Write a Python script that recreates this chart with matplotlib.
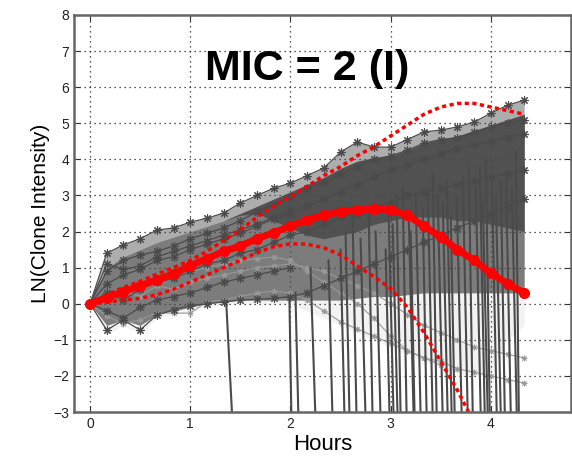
import matplotlib
matplotlib.use("Agg")
import matplotlib.pyplot as plt

# time points (hours), one sample every 10 min
hours = [0, 0.167, 0.333, 0.5, 0.667, 0.833, 1.0, 1.167, 1.333, 1.5, 1.667, 1.833, 2.0,
         2.167, 2.333, 2.5, 2.667, 2.833, 3.0, 3.167, 3.333, 3.5, 3.667, 3.833, 4.0,
         4.167, 4.333]

# red mean curve and the two dotted bounds
mean_ln = [0, 0.17, 0.33, 0.5, 0.66, 0.83, 1.05, 1.25, 1.45, 1.6, 1.8, 1.97, 2.15,
           2.32, 2.45, 2.55, 2.6, 2.63, 2.6, 2.45, 2.15, 1.85, 1.5, 1.2, 0.85, 0.55, 0.3]
upper_ln = [0, 0.25, 0.45, 0.62, 0.82, 1.0, 1.2, 1.45, 1.75, 2.05, 2.4, 2.7, 2.97,
            3.25, 3.55, 3.8, 4.1, 4.35, 4.65, 4.95, 5.25, 5.45, 5.55, 5.55, 5.45, 5.35, 5.25]
lower_ln = [0, 0.05, 0.1, 0.15, 0.25, 0.4, 0.6, 0.8, 1.0, 1.2, 1.42, 1.58, 1.66,
            1.65, 1.55, 1.35, 1.05, 0.75, 0.42, -0.1, -0.8, -1.6, -2.4, -3.3]

# outline of the clone cloud
cloud_top = [0, 1.4, 1.63, 1.8, 2.04, 2.1, 2.26, 2.37, 2.51, 2.79, 3.0, 3.2, 3.34,
             3.55, 3.76, 4.2, 4.48, 4.34, 4.34, 4.55, 4.76, 4.81, 4.9, 5.03, 5.28, 5.5, 5.64]
cloud_solid_top = [0, 1.0, 1.3, 1.5, 1.7, 1.85, 2.0, 2.15, 2.3, 2.5, 2.7, 2.9, 3.1,
                   3.3, 3.5, 3.75, 3.95, 4.05, 4.1, 4.25, 4.45, 4.55, 4.65, 4.8, 4.95, 5.1, 5.25]
cloud_mesh_low = [0, -0.6, -0.45, -0.6, -0.3, -0.2, -0.1, 0.0, 0.05, 0.1, 0.1, 0.1, 0.1,
                  0.1, 0.1, 0.1, 0.15, 0.2, 0.2, 0.25, 0.3, 0.3, 0.3, 0.3, 0.3, 0.3, 0.3]
cloud_dense_low = [0, 1.0, 1.3, 1.5, 1.7, 1.85, 2.0, 2.15, 2.3, 2.45, 2.5, 2.3, 2.1,
                   1.9, 1.8, 1.9, 2.0, 2.2, 2.3, 2.4, 2.4, 2.4, 2.3, 2.3, 2.2, 2.1, 2.0]
cloud_faint_low = [0, -0.85, -0.6, -0.85, -0.4, -0.3, -0.25, -0.1, 0.0, 0.0, 0.0, 0.0, 0.0,
                   -0.2, -0.4, -0.6, -0.8, -1.0, -1.2, -1.4, -1.6, -1.8, -1.9, -2.0, -1.9,
                   -1.0, -0.6]

# a few single clones that stand out
clone_a = cloud_top
clone_b = [0, 0.9, 1.2, 1.35, 1.45, 1.6, 1.8, 1.95, 2.1, 2.3, 2.55, 2.75, 2.95, 3.2, 3.35,
           3.6, 3.8, 4.0, 4.1, 4.25, 4.45, 4.55, 4.6, 4.75, 4.9, 5.0, 5.1]
clone_c = [0, 0.55, 0.8, 0.95, 1.2, 1.3, 1.5, 1.65, 1.8, 1.95, 2.15, 2.35, 2.5, 2.7, 2.9,
           3.1, 3.3, 3.5, 3.7, 3.85, 4.0, 4.15, 4.3, 4.4, 4.5, 4.6, 4.7]
clone_d = [0, -0.73, -0.45, -0.73, -0.31, -0.17, -0.05, 0.0, 0.05, 0.1, 0.12, 0.15, 0.2,
           0.3, 0.5, 0.7, 0.9, 1.1, 1.3, 1.5, 1.7, 1.9, 2.1, 2.3, 2.5, 2.7, 2.9]
clone_f = [0, 0.3, 0.1, 0.4, 0.6, 0.7, 0.9, 1.1, 1.2, 1.4, 1.5, 1.7, 1.9, 2.0, 2.2, 2.4,
           2.5, 2.7, 2.8, 3.0, 3.1, 3.2, 3.3, 3.4, 3.5, 3.6, 3.7]
clone_h = [0, -0.2, -0.4, -0.1, 0.1, 0.2, 0.3, 0.45, 0.6, 0.7, 0.8, 0.9, 1.0]
clone_i = [0, 1.1, 0.95, 1.05, 1.3, 1.45, 1.6, 1.75, 1.9, 2.05, 2.2, 2.4, 2.6]
clones = [clone_a, clone_b, clone_c, clone_d, clone_f, clone_h, clone_i]

# faint clones that slowly fall off
fade_e = [0, -0.35, -0.55, -0.45, -0.25, -0.26, -0.26, 0.05, 0.1, 0.2, 0.3, 0.35, 0.3,
          0.1, -0.2, -0.5, -0.7, -0.9, -1.1, -1.3, -1.5, -1.6, -1.8, -1.9, -2.0, -2.1, -2.2]
fade_g = [0, 0.1, 0.35, 0.2, 0.5, 0.4, 0.6, 0.7, 0.8, 0.9, 1.0, 1.05, 1.1, 1.0, 0.9, 0.7,
          0.5, 0.3, 0.0, -0.3, -0.6, -0.8, -1.0, -1.2, -1.3, -1.4, -1.5]
fade_k = [0, 0.2, 0.4, 0.6, 0.7, 0.8, 0.9, 1.0, 1.1, 1.2, 1.25, 1.3, 1.2, 0.9, 0.6, 0.3,
          0.0, -0.4, -0.9, -1.3, -1.5, -1.7]
fades = [fade_e, fade_g, fade_k]

# clones that vanish: last time seen, last value, time they pass -3
drop_t0 = [1.36, 1.99, 2.05, 2.2, 2.38, 2.5, 2.55, 2.7, 2.85, 2.95, 2.98, 3.02, 3.06,
           3.18, 3.25, 3.32, 3.37, 3.47, 3.52, 3.56, 3.66, 3.72, 3.85, 3.89, 3.92, 4.01,
           4.05, 4.15, 4.21, 2.62, 2.78, 3.12, 3.2, 3.42, 3.6, 3.78, 3.95, 4.1, 4.25]
drop_v0 = [0.0, 0.1, 0.3, 1.0, 1.2, 1.5, 2.0, 1.8, 2.0, 1.5, 2.5, 2.2, 3.0, 2.5, 3.0,
           2.6, 3.2, 3.0, 2.8, 3.4, 3.0, 3.5, 3.2, 3.8, 2.8, 3.5, 3.0, 3.6, 3.2,
           2.4, 2.6, 3.2, 2.0, 3.6, 2.4, 3.8, 4.0, 3.4, 4.2]
drop_t1 = [1.42, 2.01, 2.08, 2.25, 2.42, 2.54, 2.59, 2.75, 2.9, 2.99, 3.03, 3.07, 3.1,
           3.23, 3.3, 3.36, 3.42, 3.52, 3.57, 3.61, 3.71, 3.77, 3.9, 3.94, 3.97, 4.06,
           4.1, 4.2, 4.26, 2.66, 2.82, 3.16, 3.24, 3.46, 3.64, 3.82, 3.99, 4.14, 4.28]
drop_v1 = -3.2

GRAY = "#4a4a4a"
RED = "#ff0000"
ASTER = (8, 2, 0)

plt.rcParams["font.family"] = ["Liberation Sans", "DejaVu Sans"]

fig = plt.figure(figsize=(5.72, 4.67), dpi=100)
ax = fig.add_axes([74 / 572, 55 / 467, 497 / 572, 397 / 467])

ax.fill_between(hours, cloud_faint_low, cloud_mesh_low, color=GRAY, alpha=0.07, lw=0)
ax.fill_between(hours, cloud_mesh_low, cloud_solid_top, color=GRAY, alpha=0.72, lw=0)
ax.fill_between(hours, cloud_solid_top, cloud_top, color=GRAY, alpha=0.45, lw=0)
ax.fill_between(hours, cloud_dense_low, cloud_solid_top, color=GRAY, alpha=0.85, lw=0)

for vals in fades:
    ax.plot(hours[:len(vals)], vals, color="#999999", lw=0.8, marker=ASTER, ms=4, mew=0.6)

for vals in clones:
    ax.plot(hours[:len(vals)], vals, color=GRAY, lw=0.9, marker=ASTER, ms=6, mew=0.8)

for t0, v0, t1 in zip(drop_t0, drop_v0, drop_t1):
    ax.plot([t0, t1], [v0, drop_v1], color=GRAY, lw=1.5)

ax.plot(hours[:len(upper_ln)], upper_ln, color=RED, lw=2.5, dashes=(1.2, 1.0))
ax.plot(hours[:len(lower_ln)], lower_ln, color=RED, lw=2.5, dashes=(1.2, 1.0))
ax.plot(hours, mean_ln, color=RED, lw=5, marker="o", ms=7)

ax.set_xlim(-0.16, 4.8)
ax.set_ylim(-3, 8)
ax.set_xticks([0, 1, 2, 3, 4])
ax.set_yticks(range(-3, 9))
ax.grid(True, color="#222222", lw=0.9, dashes=(1, 3))
ax.set_axisbelow(True)
ax.tick_params(direction="in", top=True, right=True, length=4, labelsize=10,
               colors="#333333", labelcolor="#222222")
for sp in ax.spines.values():
    sp.set_color("#666666")
    sp.set_linewidth(1.8)

ax.set_xlabel("Hours", fontsize=16, labelpad=2)
ax.set_ylabel("LN(Clone Intensity)", fontsize=15, labelpad=2)
ax.text(0.47, 0.865, "MIC = 2 (I)", transform=ax.transAxes, ha="center", va="center",
        fontsize=31, fontweight="bold")

fig.savefig("out.png", dpi=100)
